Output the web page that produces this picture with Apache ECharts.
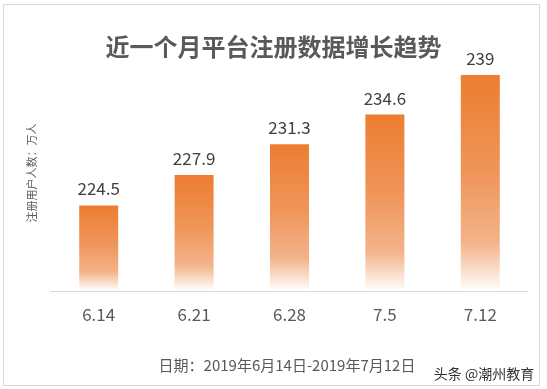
<!DOCTYPE html>
<html>
<head>
<meta charset="utf-8">
<script src="https://cdn.jsdelivr.net/npm/echarts@6/dist/echarts.min.js"></script>
<style>
html,body{margin:0;padding:0;background:#fff;}
#c{width:547px;height:389px;}
</style>
</head>
<body>
<div id="c"></div>
<script>
const categories = ['6.14', '6.21', '6.28', '7.5', '7.12'];
const values = [224.5, 227.9, 231.3, 234.6, 239];
const titleText = '近一个月平台注册数据增长趋势';
const yAxisName = '注册用户人数：万人';
const subText = '日期：2019年6月14日-2019年7月12日';
const watermark = '头条 @潮州教育';

const font = '"Noto Sans CJK SC", "Noto Sans", sans-serif';
const chart = echarts.init(document.getElementById('c'));
chart.setOption({
  animation: false,
  backgroundColor: '#ffffff',
  title: {
    text: titleText,
    left: 'center',
    top: 30,
    textStyle: { fontFamily: font, fontSize: 24, fontWeight: 'bold', color: '#595959' }
  },
  grid: { left: 51, right: 19, top: 21, bottom: 98 },
  xAxis: {
    type: 'category',
    data: categories,
    axisLine: { lineStyle: { color: '#D9D9D9', width: 1 } },
    axisTick: { show: false },
    axisLabel: { color: '#595959', fontSize: 17, fontFamily: font, margin: 15 }
  },
  yAxis: {
    type: 'value',
    min: 215,
    max: 245,
    show: false
  },
  series: [{
    type: 'bar',
    data: values,
    barWidth: 39,
    itemStyle: {
      color: new echarts.graphic.LinearGradient(0, 0, 0, 1, [
        { offset: 0, color: '#ED7D31' },
        { offset: 0.45, color: '#EF955A' },
        { offset: 0.78, color: '#F3B48A' },
        { offset: 1, color: '#FFFFFF' }
      ])
    },
    label: {
      show: true,
      position: 'top',
      distance: 8,
      color: '#404040',
      fontSize: 17,
      fontFamily: font
    }
  }],
  graphic: [
    {
      type: 'rect',
      shape: { x: 3.5, y: 4.5, width: 536, height: 381 },
      style: { fill: 'none', stroke: '#D9D9D9', lineWidth: 1 },
      silent: true
    },
    {
      type: 'text',
      x: 32,
      y: 173,
      rotation: Math.PI / 2,
      style: {
        text: yAxisName,
        fill: '#595959',
        fontSize: 11,
        fontFamily: font,
        align: 'center',
        verticalAlign: 'middle'
      }
    },
    {
      type: 'text',
      x: 287,
      y: 365,
      style: {
        text: subText,
        fill: '#595959',
        fontSize: 15,
        fontFamily: font,
        align: 'center',
        verticalAlign: 'middle'
      }
    },
    {
      type: 'text',
      x: 484,
      y: 374,
      style: {
        text: watermark,
        fill: '#333333',
        fontSize: 14,
        fontFamily: font,
        align: 'center',
        verticalAlign: 'middle'
      }
    }
  ]
});
</script>
</body>
</html>
